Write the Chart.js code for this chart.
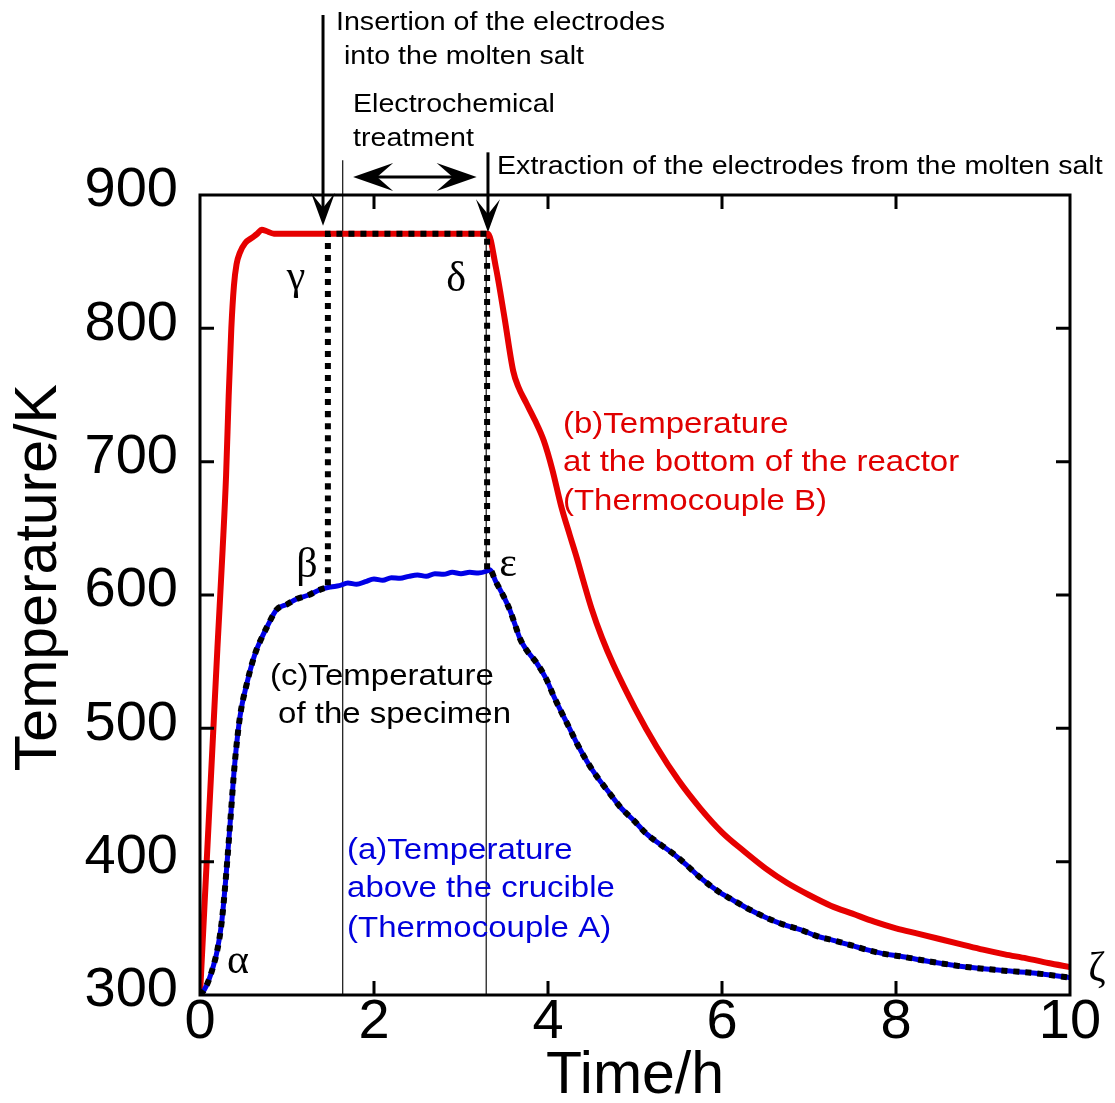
<!DOCTYPE html>
<html>
<head>
<meta charset="utf-8">
<script src="https://cdn.jsdelivr.net/npm/chart.js@4.4.1/dist/chart.umd.min.js"></script>
<style>
  html, body { margin: 0; padding: 0; background: #fff; }
  canvas { display: block; }
</style>
</head>
<body>
<canvas id="chart" width="1115" height="1103"></canvas>
<script>
// ─── DATA ─────────────────────────────────────────────────
// (a) thermocouple A, above the crucible
const timeA = [0, 0.05, 0.1, 0.15, 0.2, 0.25, 0.3, 0.35, 0.4, 0.46, 0.54, 0.6, 0.65, 0.71, 0.77, 0.88, 1.0, 1.11, 1.25, 1.38, 1.5,
    1.6, 1.7, 1.8, 1.9, 2.0, 2.1, 2.2, 2.3, 2.4, 2.5, 2.6, 2.7, 2.8, 2.9, 3.0, 3.1, 3.2, 3.3,
    3.33, 3.4, 3.49, 3.56, 3.62, 3.68, 3.75, 3.87, 3.98, 4.06, 4.14, 4.24, 4.33, 4.45, 4.56, 4.7, 4.83, 5.0, 5.13, 5.29, 5.44,
    5.6, 5.75, 5.95, 6.13, 6.32, 6.51, 6.7, 6.9, 7.1, 7.28, 7.5, 7.66, 7.85, 8.05, 8.4, 8.81, 9.2, 9.58, 10.0];
const tempA = [300, 304, 311, 321, 334, 355, 390, 432, 474, 509, 534, 549, 559, 568, 576, 589, 593, 597, 600, 604, 606,
    607, 609, 608, 610, 612, 611, 613, 612.5, 614, 615, 614, 616, 615.5, 617, 616, 617, 616.5, 618,
    619, 610, 599, 589, 578, 567, 559, 549, 537, 525, 514, 501, 489, 475, 464, 452, 441, 430, 421, 413, 406,
    397, 388, 378, 371, 364, 358, 353, 349, 344, 341, 337, 334, 331, 329, 325, 321, 318.5, 316.5, 313];

// (b) thermocouple B, bottom of the reactor
const timeB = [0, 0.05, 0.1, 0.15, 0.2, 0.26, 0.3, 0.33, 0.36, 0.39, 0.42, 0.46, 0.52, 0.6, 0.66, 0.71, 0.76, 0.85, 1.0, 1.5, 2.0, 2.5, 3.0, 3.31,
    3.4, 3.5, 3.6, 3.66, 3.75, 3.85, 3.95, 4.05, 4.15, 4.25, 4.33, 4.4, 4.5, 4.62, 4.75, 5.0, 5.25, 5.5, 5.75, 6.0, 6.25, 6.5, 6.75,
    7.0, 7.25, 7.5, 7.75, 8.0, 8.25, 8.5, 8.75, 9.0, 9.25, 9.5, 9.75, 10.0];
const tempB = [300, 365, 430, 495, 560, 634, 690, 750, 800, 832, 848, 857, 864, 868, 871, 874, 873, 871, 871, 871, 871, 871, 871, 871,
    846, 808, 768, 756, 744, 731, 716, 694, 667, 645, 628, 612, 590, 568, 548, 515, 486, 461, 440, 422, 408, 395, 384,
    375, 367, 361, 355, 350, 346, 342, 338, 334, 330.5, 327.5, 324, 321];

// (c) specimen
const timeC = [0, 0.05, 0.1, 0.15, 0.2, 0.25, 0.3, 0.35, 0.4, 0.46, 0.54, 0.6, 0.65, 0.71, 0.77, 0.88, 1.0, 1.11, 1.25, 1.38, 1.47,
    1.47, 3.3, 3.3,
    3.33, 3.4, 3.49, 3.56, 3.62, 3.68, 3.75, 3.87, 3.98, 4.06, 4.14, 4.24, 4.33, 4.45, 4.56, 4.7, 4.83, 5.0, 5.13, 5.29, 5.44,
    5.6, 5.75, 5.95, 6.13, 6.32, 6.51, 6.7, 6.9, 7.1, 7.28, 7.5, 7.66, 7.85, 8.05, 8.4, 8.81, 9.2, 9.58, 10.0];
const tempC = [300, 304, 311, 321, 334, 355, 390, 432, 474, 509, 534, 549, 559, 568, 576, 589, 593, 597, 600, 604, 605.5,
    871, 871, 619,
    619, 610, 599, 589, 578, 567, 559, 549, 537, 525, 514, 501, 489, 475, 464, 452, 441, 430, 421, 413, 406,
    397, 388, 378, 371, 364, 358, 353, 349, 344, 341, 337, 334, 331, 329, 325, 321, 318.5, 316.5, 313];

const xTicks = [0, 2, 4, 6, 8, 10];
const yTicks = [300, 400, 500, 600, 700, 800, 900];

// ─── ANNOTATIONS (data units) ─────────────────────────────
const guides = [ { t: 1.64, top: 926 }, { t: 3.29, top: 871 } ];

const notes = [
    { text: 'Insertion of the electrodes', t: 1.563, T: 1029.5, size: 26, color: '#000' },
    { text: 'into the molten salt', t: 1.655, T: 1004, size: 26, color: '#000' },
    { text: 'Electrochemical', t: 1.759, T: 968, size: 26, color: '#000' },
    { text: 'treatment', t: 1.759, T: 942.5, size: 26, color: '#000' },
    { text: 'Extraction of the electrodes from the molten salt', t: 3.414, T: 921.5, size: 26, color: '#000' },
    { text: '(b)Temperature', t: 4.172, T: 727.5, size: 30, color: '#e00000' },
    { text: 'at the bottom of the reactor', t: 4.172, T: 699, size: 30, color: '#e00000' },
    { text: '(Thermocouple B)', t: 4.172, T: 670, size: 30, color: '#e00000' },
    { text: '(c)Temperature', t: 0.805, T: 539, size: 30, color: '#000' },
    { text: 'of the specimen', t: 0.897, T: 510.5, size: 30, color: '#000' },
    { text: '(a)Temperature', t: 1.69, T: 408.5, size: 30, color: '#0000dd' },
    { text: 'above the crucible', t: 1.69, T: 380, size: 30, color: '#0000dd' },
    { text: '(Thermocouple A)', t: 1.69, T: 350, size: 30, color: '#0000dd' },
];

const greek = [
    { text: 'α', t: 0.437, T: 325 },
    { text: 'β', t: 1.23, T: 622 },
    { text: 'γ', t: 1.103, T: 838 },
    { text: 'δ', t: 2.943, T: 836 },
    { text: 'ε', t: 3.54, T: 622.5 },
    { text: 'ζ', t: 10.31, T: 319 },
];

const pairs = (xs, ys) => xs.map((v, i) => ({ x: v, y: ys[i] }));

function arrowHead(ctx, tipX, tipY, dx, dy, len, half, notch) {
    const px = -dy, py = dx;
    ctx.beginPath();
    ctx.moveTo(tipX, tipY);
    ctx.lineTo(tipX - dx * len + px * half, tipY - dy * len + py * half);
    ctx.lineTo(tipX - dx * notch, tipY - dy * notch);
    ctx.lineTo(tipX - dx * len - px * half, tipY - dy * len - py * half);
    ctx.closePath();
    ctx.fill();
}

const FONT = '"Liberation Sans", Arial, sans-serif';

const annotPlugin = {
    id: 'annot',
    beforeDatasetsDraw(chart) {
        const { ctx, scales: { x, y } } = chart;
        ctx.save();
        ctx.strokeStyle = '#222';
        ctx.lineWidth = 1.3;
        guides.forEach(g => {
            const px = x.getPixelForValue(g.t);
            ctx.beginPath();
            ctx.moveTo(px, y.getPixelForValue(g.top));
            ctx.lineTo(px, y.getPixelForValue(300));
            ctx.stroke();
        });
        ctx.restore();
    },
    afterDatasetsDraw(chart) {
        const { ctx, chartArea: a, scales: { x, y } } = chart;
        ctx.save();

        // frame + inward ticks on all sides
        ctx.strokeStyle = '#000';
        ctx.lineWidth = 3;
        ctx.strokeRect(a.left, a.top, a.right - a.left, a.bottom - a.top);
        const tl = 14;
        ctx.beginPath();
        xTicks.slice(1, -1).forEach(v => {
            const px = x.getPixelForValue(v);
            ctx.moveTo(px, a.bottom); ctx.lineTo(px, a.bottom - tl);
            ctx.moveTo(px, a.top); ctx.lineTo(px, a.top + tl);
        });
        yTicks.slice(1, -1).forEach(v => {
            const py = y.getPixelForValue(v);
            ctx.moveTo(a.left, py); ctx.lineTo(a.left + tl, py);
            ctx.moveTo(a.right, py); ctx.lineTo(a.right - tl, py);
        });
        ctx.stroke();

        // arrows
        ctx.fillStyle = '#000';
        ctx.lineWidth = 3;
        const insX = x.getPixelForValue(1.414);
        const insTop = y.getPixelForValue(1035), insTip = y.getPixelForValue(877);
        ctx.beginPath(); ctx.moveTo(insX, insTop); ctx.lineTo(insX, insTip - 15); ctx.stroke();
        arrowHead(ctx, insX, insTip, 0, 1, 33, 12, 18);

        const extX = x.getPixelForValue(3.31);
        const extTop = y.getPixelForValue(932), extTip = y.getPixelForValue(872);
        ctx.beginPath(); ctx.moveTo(extX, extTop); ctx.lineTo(extX, extTip - 15); ctx.stroke();
        arrowHead(ctx, extX, extTip, 0, 1, 33, 12, 18);

        const dY = y.getPixelForValue(913.5);
        const dL = x.getPixelForValue(1.76), dR = x.getPixelForValue(3.18);
        ctx.beginPath(); ctx.moveTo(dL + 20, dY); ctx.lineTo(dR - 20, dY); ctx.stroke();
        arrowHead(ctx, dL, dY, -1, 0, 40, 14, 24);
        arrowHead(ctx, dR, dY, 1, 0, 40, 14, 24);

        // y axis title, a little above the axis centre as in the original
        ctx.save();
        ctx.translate(a.left - 160, y.getPixelForValue(613));
        ctx.rotate(-Math.PI / 2);
        ctx.font = '59px ' + FONT;
        ctx.fillStyle = '#000';
        ctx.textAlign = 'center';
        ctx.textBaseline = 'middle';
        ctx.fillText('Temperature/K', 0, 0);
        ctx.restore();

        // text notes, slightly wide like the original
        ctx.textBaseline = 'middle';
        ctx.textAlign = 'left';
        notes.forEach(n => {
            ctx.save();
            ctx.translate(x.getPixelForValue(n.t), y.getPixelForValue(n.T));
            ctx.scale(1.1, 1);
            ctx.font = n.size + 'px ' + FONT;
            ctx.fillStyle = n.color;
            ctx.fillText(n.text, 0, 0);
            ctx.restore();
        });

        ctx.textAlign = 'center';
        ctx.font = '42px "Liberation Serif", "Times New Roman", serif';
        ctx.fillStyle = '#000';
        greek.forEach(g => {
            ctx.fillText(g.text, x.getPixelForValue(g.t), y.getPixelForValue(g.T));
        });

        ctx.restore();
    }
};

const axisFont = { family: FONT, size: 56, lineHeight: 1.0 };
const titleFont = { family: FONT, size: 59, lineHeight: 0.9 };

new Chart(document.getElementById('chart'), {
    type: 'line',
    data: {
        datasets: [
            {
                label: '(c) specimen', data: pairs(timeC, tempC),
                borderColor: '#000', borderWidth: 6, borderDash: [6, 6], borderCapStyle: 'butt',
                pointRadius: 0, cubicInterpolationMode: 'monotone', order: 0,
            },
            {
                label: '(a) Thermocouple A', data: pairs(timeA, tempA),
                borderColor: '#0000e6', borderWidth: 5,
                pointRadius: 0, cubicInterpolationMode: 'monotone', order: 1,
            },
            {
                label: '(b) Thermocouple B', data: pairs(timeB, tempB),
                borderColor: '#e60000', borderWidth: 6,
                pointRadius: 0, cubicInterpolationMode: 'monotone', order: 2,
            },
        ]
    },
    options: {
        responsive: false,
        devicePixelRatio: 1,
        animation: false,
        layout: { padding: { top: 195, right: 45, left: 0, bottom: 0 } },
        plugins: { legend: { display: false }, tooltip: { enabled: false } },
        scales: {
            x: {
                type: 'linear', min: 0, max: 10,
                afterBuildTicks: s => { s.ticks = xTicks.map(v => ({ value: v })); },
                afterFit: s => { s.height = 108; },
                ticks: { font: axisFont, color: '#000', padding: 0, maxRotation: 0 },
                grid: { display: false, drawTicks: false },
                border: { display: false },
                title: { display: true, text: 'Time/h', color: '#000', font: titleFont, padding: { top: 0, bottom: 0 } },
            },
            y: {
                type: 'linear', min: 300, max: 900,
                afterBuildTicks: s => { s.ticks = yTicks.map(v => ({ value: v })); },
                afterFit: s => { s.width = 200; },
                ticks: { font: axisFont, color: '#000', padding: 22, labelOffset: -4 },
                grid: { display: false, drawTicks: false },
                border: { display: false },
                title: { display: false },
            },
        }
    },
    plugins: [annotPlugin]
});
</script>
</body>
</html>
